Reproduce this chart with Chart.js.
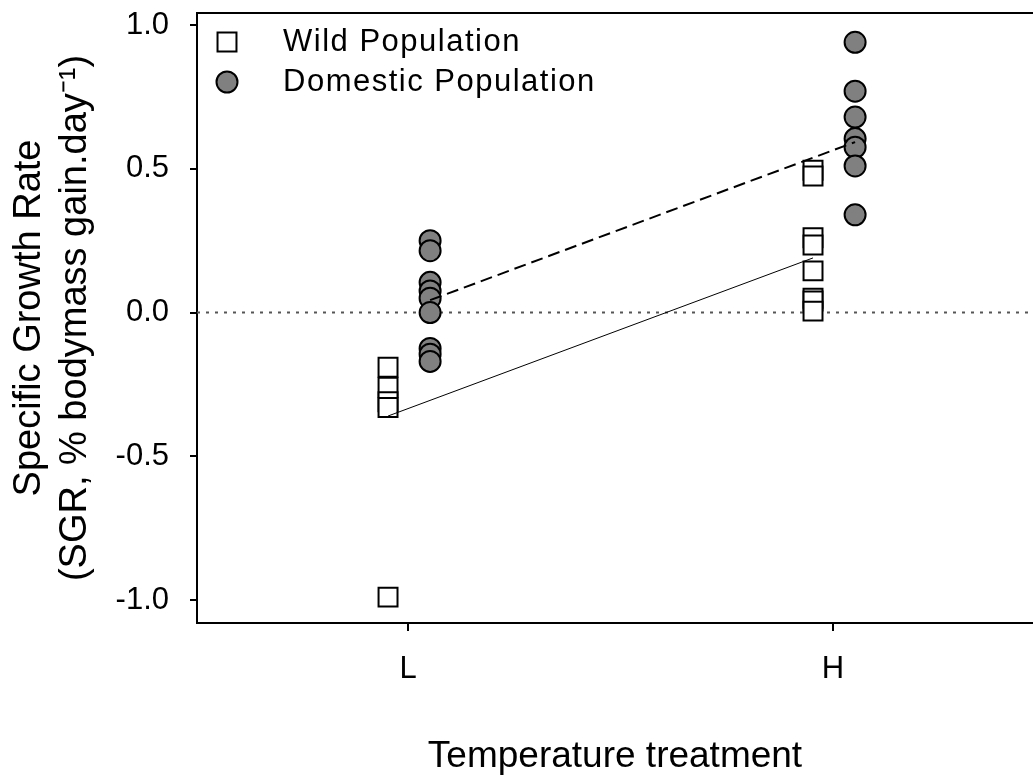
<!DOCTYPE html>
<html>
<head>
<meta charset="utf-8">
<title>Specific Growth Rate</title>
<script src="https://cdn.jsdelivr.net/npm/chart.js@4/dist/chart.umd.min.js"></script>
<style>
  html, body { margin: 0; padding: 0; background: #fff; }
  #wrap { width: 1033px; height: 781px; }
</style>
</head>
<body>
<div id="wrap"><canvas id="chart" width="1033" height="781"></canvas></div>
<script>
"use strict";

// Data
const CATEGORIES = ["L", "H"];
const SERIES_LABELS = ["Wild Population", "Domestic Population"];

const WILD_L = [-0.19, -0.26, -0.31, -0.33, -0.99];
const WILD_H = [0.495, 0.475, 0.26, 0.235, 0.145, 0.05, 0.04, 0.005];
const DOMESTIC_L = [0.25, 0.215, 0.105, 0.075, 0.05, 0.0, -0.125, -0.145, -0.17];
const DOMESTIC_H = [0.94, 0.77, 0.68, 0.605, 0.575, 0.51, 0.34];

// fitted lines, value at L and at H
const WILD_FIT = [-0.36, 0.19];
const DOMESTIC_FIT = [0.043, 0.593];

const Y_TICKS = [-1.0, -0.5, 0.0, 0.5, 1.0];

const FONT = "'Liberation Sans', Arial, sans-serif";
const X_MIN = 0.5035, X_MAX = 2.4706;
const WILD_SHIFT = -0.047;
const DOM_SHIFT = 0.052;

function points(byCat, shift) {
  return byCat.flatMap((vals, i) => vals.map(v => ({ x: i + 1 + shift, y: v })));
}

function fitLine(ends, shift) {
  return ends.map((v, i) => ({ x: i + 1 + shift, y: v }));
}

// drop the extra room chart.js keeps for edge tick labels
function noPad(s) {
  s.paddingTop = 0; s.paddingBottom = 0; s.paddingLeft = 0; s.paddingRight = 0;
}

const WILD_STYLE = { pointStyle: "rect", radius: 13.4, bg: "#ffffff" };
const DOM_STYLE  = { pointStyle: "circle", radius: 10.5, bg: "#808080" };

const legendInside = {
  id: "legendInside",
  afterDraw(chart) {
    const ctx = chart.ctx;
    const rows = [
      { label: SERIES_LABELS[0], style: WILD_STYLE, y: 42 },
      { label: SERIES_LABELS[1], style: DOM_STYLE, y: 82 },
    ];
    ctx.save();
    rows.forEach(r => {
      ctx.fillStyle = r.style.bg;
      ctx.strokeStyle = "#000";
      ctx.lineWidth = 2;
      Chart.helpers.drawPoint(ctx, { pointStyle: r.style.pointStyle, radius: r.style.radius, borderWidth: 2, rotation: 0 }, 227, r.y);
      ctx.fillStyle = "#000";
      ctx.font = "31px " + FONT;
      ctx.letterSpacing = "1.5px";
      ctx.textAlign = "left";
      ctx.textBaseline = "middle";
      ctx.fillText(r.label, 283, r.y);
    });
    ctx.restore();
  },
};

new Chart(document.getElementById("chart").getContext("2d"), {
  type: "scatter",
  data: {
    datasets: [
      {
        label: "Wild fit",
        data: fitLine(WILD_FIT, WILD_SHIFT),
        showLine: true, borderColor: "#000", borderWidth: 1, pointRadius: 0, order: 0,
      },
      {
        label: "Domestic fit",
        data: fitLine(DOMESTIC_FIT, DOM_SHIFT),
        showLine: true, borderColor: "#000", borderWidth: 2, borderDash: [12, 6], pointRadius: 0, order: 0,
      },
      {
        label: SERIES_LABELS[0],
        data: points([WILD_L, WILD_H], WILD_SHIFT),
        pointStyle: WILD_STYLE.pointStyle, pointRadius: WILD_STYLE.radius,
        backgroundColor: WILD_STYLE.bg, borderColor: "#000", borderWidth: 2, order: 1,
      },
      {
        label: SERIES_LABELS[1],
        data: points([DOMESTIC_L, DOMESTIC_H], DOM_SHIFT),
        pointStyle: DOM_STYLE.pointStyle, pointRadius: DOM_STYLE.radius,
        backgroundColor: DOM_STYLE.bg, borderColor: "#000", borderWidth: 2, order: 1,
      },
      {
        label: "zero",
        data: [{ x: X_MIN, y: 0 }, { x: X_MAX, y: 0 }],
        showLine: true, borderColor: "#555", borderWidth: 2, borderDash: [3, 6], pointRadius: 0, order: 2,
      },
    ],
  },
  options: {
    responsive: false,
    animation: false,
    devicePixelRatio: 1,
    layout: { padding: 0, autoPadding: false },
    plugins: { legend: { display: false }, tooltip: { enabled: false } },
    scales: {
      x: {
        type: "linear", position: "bottom", min: X_MIN, max: X_MAX,
        afterBuildTicks: s => { s.ticks = CATEGORIES.map((c, i) => ({ value: i + 1 })); },
        afterFit: s => { s.height = 158; noPad(s); },
        ticks: {
          callback: v => CATEGORIES[v - 1],
          font: { family: FONT, size: 31 }, color: "#000", padding: 20,
          maxRotation: 0, autoSkip: false,
        },
        grid: { drawOnChartArea: false, tickLength: 8, lineWidth: 2, color: "#000" },
        border: { color: "#000", width: 2 },
        title: {
          display: true, text: "Temperature treatment", color: "#000",
          font: { family: FONT, size: 37 }, padding: { top: 0, bottom: 2 },
        },
      },
      xTop: {
        type: "linear", position: "top",
        afterFit: s => { s.height = 13; noPad(s); },
        ticks: { display: false },
        grid: { display: false },
        border: { color: "#000", width: 2 },
      },
      y: {
        type: "linear", min: -1.08, max: 1.042,
        afterBuildTicks: s => { s.ticks = Y_TICKS.map(v => ({ value: v })); },
        afterFit: s => { s.width = 197; noPad(s); },
        ticks: {
          callback: v => v.toFixed(1),
          font: { family: FONT, size: 31 }, color: "#000", padding: 21,
        },
        grid: { drawOnChartArea: false, tickLength: 7, lineWidth: 2, color: "#000" },
        border: { color: "#000", width: 2 },
        title: {
          display: true,
          text: ["Specific Growth Rate", "(SGR, % bodymass gain.day\u207B\u00B9)"],
          color: "#000",
          font: { family: FONT, size: 38, lineHeight: 1.2 }, padding: { top: 7, bottom: 0 },
        },
      },
    },
  },
  plugins: [legendInside],
});
</script>
</body>
</html>
